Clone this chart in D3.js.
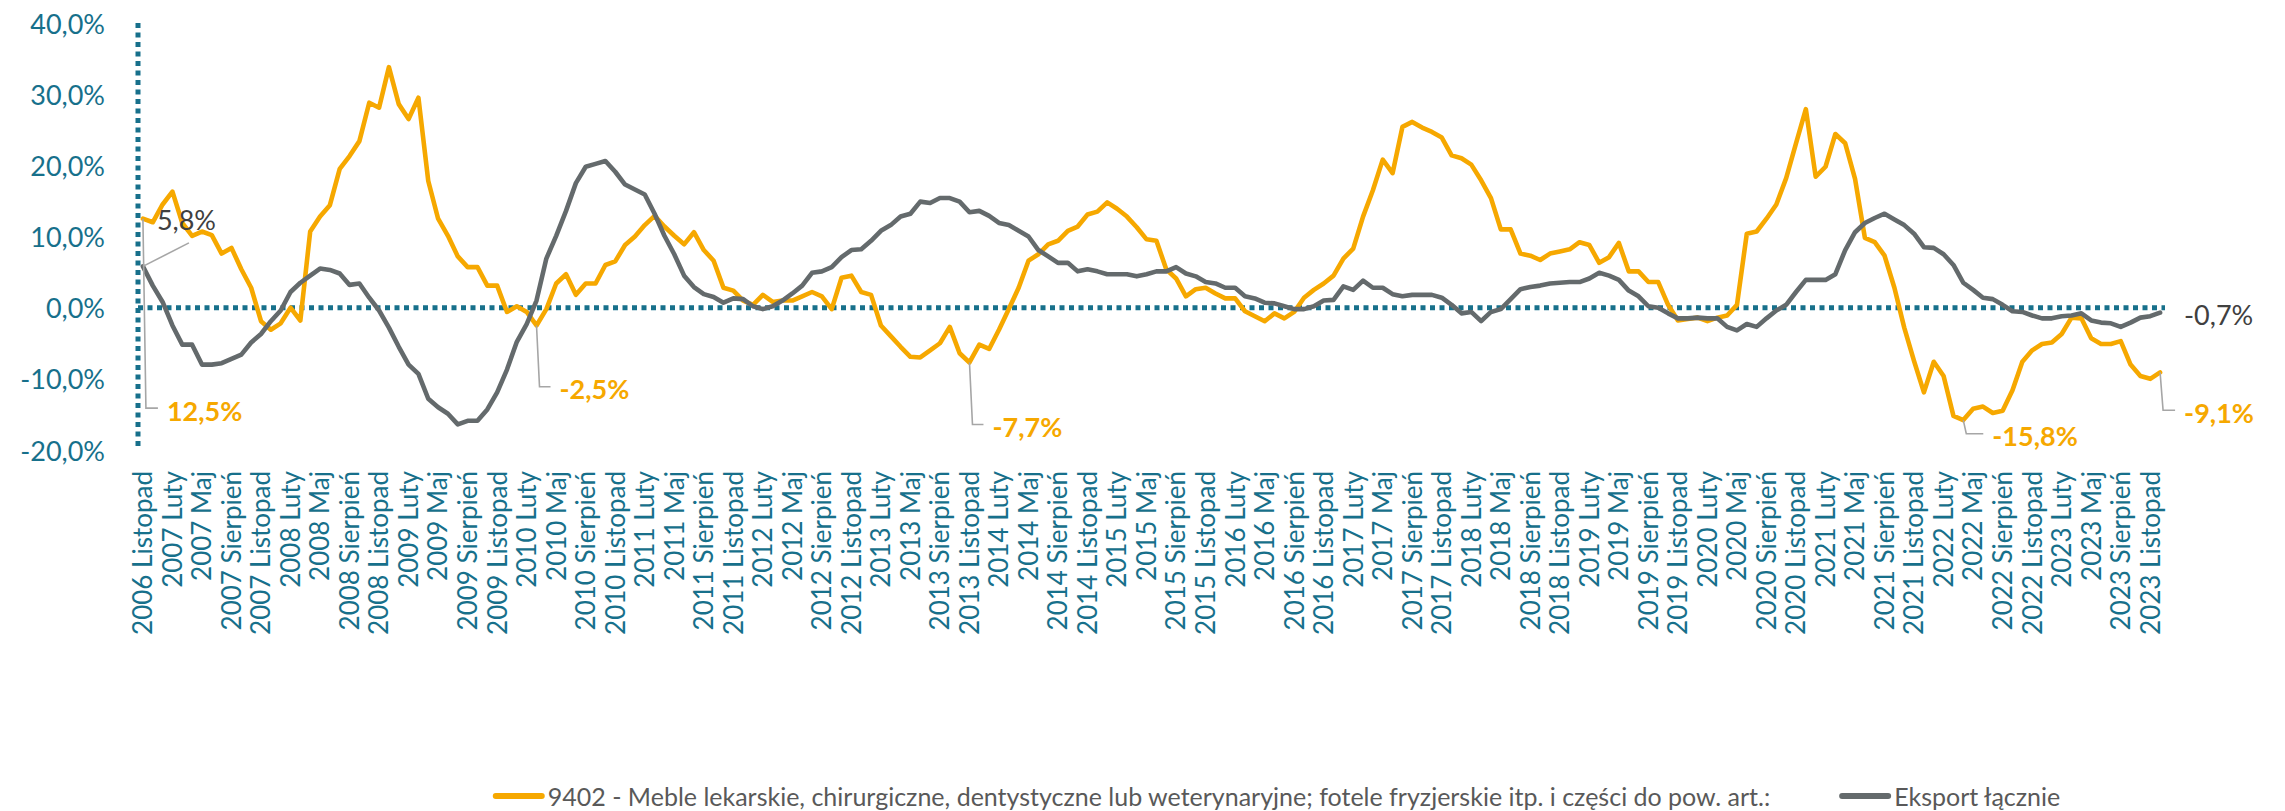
<!DOCTYPE html>
<html>
<head>
<meta charset="utf-8">
<script src="https://cdn.jsdelivr.net/npm/d3@7"></script>
<style>
  html, body { margin: 0; padding: 0; background: #fff; }
  svg { display: block; }
</style>
</head>
<body>
<div id="chart"></div>
<script>
// ---- dane ----
const START_YEAR = 2006, START_MONTH = 10;   // 2006 Listopad
const monthNames = ["Styczeń", "Luty", "Marzec", "Kwiecień", "Maj", "Czerwiec",
                    "Lipiec", "Sierpień", "Wrzesień", "Październik", "Listopad", "Grudzień"];

const seriesNames = [
  "9402 - Meble lekarskie, chirurgiczne, dentystyczne lub weterynaryjne; fotele fryzjerskie itp. i części do pow. art.:",
  "Eksport łącznie"
];

// dynamika r/r, %
const meble = [
  12.5, 12.0, 14.5, 16.3, 11.9, 10.1, 10.7, 10.2, 7.6, 8.4, 5.4, 2.8,
  -1.9, -3.1, -2.2, 0.0, -1.8, 10.7, 12.8, 14.4, 19.5, 21.3, 23.4, 28.8,
  28.1, 33.8, 28.6, 26.5, 29.5, 17.8, 12.5, 10.1, 7.2, 5.7, 5.7, 3.1,
  3.1, -0.6, 0.2, -0.6, -2.5, -0.2, 3.4, 4.7, 1.8, 3.4, 3.4, 6.0,
  6.5, 8.8, 10.0, 11.6, 12.9, 11.4, 10.1, 8.9, 10.6, 8.1, 6.6, 2.8,
  2.4, 1.0, 0.4, 1.8, 0.8, 1.0, 1.0, 1.6, 2.2, 1.6, -0.2, 4.2,
  4.5, 2.2, 1.8, -2.5, -4.0, -5.5, -6.9, -7.0, -6.0, -5.0, -2.7, -6.4,
  -7.7, -5.2, -5.8, -3.1, -0.2, 2.8, 6.6, 7.5, 8.9, 9.4, 10.8, 11.4,
  13.1, 13.5, 14.8, 13.9, 12.8, 11.3, 9.6, 9.4, 5.4, 4.1, 1.6, 2.6,
  2.8, 2.0, 1.3, 1.3, -0.5, -1.2, -1.9, -0.8, -1.5, -0.6, 1.4, 2.5,
  3.4, 4.5, 6.9, 8.3, 12.8, 16.5, 20.8, 18.9, 25.4, 26.1, 25.3, 24.7,
  23.9, 21.4, 21.0, 20.1, 17.9, 15.4, 11.0, 11.0, 7.6, 7.3, 6.7, 7.6,
  7.9, 8.2, 9.2, 8.8, 6.3, 7.1, 9.1, 5.1, 5.1, 3.6, 3.6, 0.4,
  -1.8, -1.6, -1.4, -1.9, -1.4, -1.1, 0.4, 10.4, 10.7, 12.5, 14.5, 18.2,
  23.1, 27.9, 18.4, 19.8, 24.4, 23.1, 18.1, 9.8, 9.2, 7.3, 2.8, -2.8,
  -7.5, -11.9, -7.6, -9.6, -15.2, -15.8, -14.2, -13.9, -14.8, -14.5, -11.6, -7.6,
  -6.0, -5.1, -4.9, -3.7, -1.4, -1.5, -4.3, -5.1, -5.1, -4.7, -8.0, -9.6,
  -10.0, -9.1
];

const eksport = [
  5.8, 3.1, 0.8, -2.5, -5.2, -5.2, -8.0, -8.0, -7.8, -7.2, -6.6, -4.9,
  -3.7, -1.9, -0.4, 2.2, 3.5, 4.5, 5.5, 5.3, 4.8, 3.2, 3.4, 1.4,
  -0.4, -2.8, -5.5, -8.0, -9.3, -12.8, -14.0, -14.9, -16.4, -15.9, -15.9, -14.3,
  -11.9, -8.7, -4.8, -2.3, 1.0, 6.9, 10.1, 13.6, 17.5, 19.8, 20.2, 20.6,
  19.1, 17.3, 16.6, 15.9, 13.2, 10.1, 7.5, 4.5, 2.9, 1.9, 1.5, 0.7,
  1.3, 1.2, 0.2, -0.2, 0.2, 1.0, 2.0, 3.1, 4.9, 5.1, 5.7, 7.1,
  8.1, 8.2, 9.4, 10.8, 11.6, 12.8, 13.2, 14.9, 14.7, 15.4, 15.4, 14.9,
  13.4, 13.6, 12.9, 11.9, 11.6, 10.8, 10.0, 8.1, 7.2, 6.3, 6.3, 5.1,
  5.4, 5.1, 4.7, 4.7, 4.7, 4.4, 4.7, 5.1, 5.1, 5.7, 4.8, 4.4,
  3.6, 3.4, 2.8, 2.8, 1.6, 1.3, 0.7, 0.6, 0.2, -0.2, -0.2, 0.2,
  1.0, 1.1, 3.0, 2.5, 3.8, 2.8, 2.8, 1.9, 1.6, 1.8, 1.8, 1.8,
  1.4, 0.4, -0.8, -0.6, -1.9, -0.6, -0.2, 1.2, 2.6, 2.9, 3.1, 3.4,
  3.5, 3.6, 3.6, 4.1, 4.9, 4.5, 3.9, 2.4, 1.6, 0.2, 0.0, -0.8,
  -1.5, -1.5, -1.4, -1.5, -1.5, -2.7, -3.2, -2.3, -2.7, -1.5, -0.4, 0.4,
  2.2, 3.9, 3.9, 3.9, 4.7, 8.1, 10.6, 11.9, 12.6, 13.2, 12.4, 11.6,
  10.4, 8.5, 8.4, 7.5, 6.0, 3.5, 2.5, 1.4, 1.2, 0.4, -0.5, -0.6,
  -1.1, -1.5, -1.5, -1.2, -1.1, -0.8, -1.8, -2.1, -2.2, -2.7, -2.1, -1.4,
  -1.2, -0.7
];

const yTicks = [-20, -10, 0, 10, 20, 30, 40];
const TICK_EVERY = 3;

// etykiety danych: seria, indeks, poziom etykiety (w %), przesunięcie x
const dataLabels = [
  { s: 0, i: 0,   ly: -14.4, dx: 24,  bold: true },
  { s: 0, i: 40,  ly: -11.4, dx: 23,  bold: true },
  { s: 0, i: 84,  ly: -16.7, dx: 23,  bold: true },
  { s: 0, i: 185, ly: -18.0, dx: 29,  bold: true },
  { s: 0, i: 205, ly: -14.7, dx: 24,  bold: true },
  { s: 1, i: 0,   ly: 12.4,  dx: 14,  bold: false, diag: true },
  { s: 1, i: 205, ly: -1.0,  dx: 24,  bold: false, noLeader: true }
];

// ---- wygląd ----
const W = 2285, H = 811;
const TEAL = "#17708b";
const ORANGE = "#f6a800";
const GREY = "#646a6c";
const FONT = "Lato, 'Open Sans', sans-serif";

const categories = d3.range(meble.length).map(i => {
  const k = START_MONTH + i;
  return (START_YEAR + Math.floor(k / 12)) + " " + monthNames[k % 12];
});
const series = [meble, eksport];
const colors = [ORANGE, GREY];

const plPL = d3.formatLocale({ decimal: ",", thousands: " ", grouping: [3], currency: ["", " zł"], minus: "-" });
const pct = v => plPL.format(".1%")(v / 100);

const svg = d3.select("#chart").append("svg").attr("width", W).attr("height", H)
  .style("font-family", FONT);

const x = d3.scaleBand().domain(d3.range(categories.length)).range([138, 2165]);
const y = d3.scaleLinear().domain([-20, 40]).range([450, 23]);
const cx = i => x(i) + x.bandwidth() / 2;

// oś Y - etykiety
svg.append("g").selectAll("text").data(yTicks).join("text")
  .attr("x", 105).attr("y", d => y(d))
  .attr("text-anchor", "end").attr("dominant-baseline", "central")
  .attr("fill", TEAL).style("font-size", "27px")
  .text(d => pct(d));

// linie osi (kropkowane)
const dotted = sel => sel.attr("stroke", TEAL).attr("stroke-width", 5).attr("stroke-dasharray", "5,4.5");
svg.append("line").attr("x1", x.range()[0]).attr("x2", x.range()[0])
  .attr("y1", y(40)).attr("y2", y(-20)).call(dotted);
svg.append("line").attr("x1", x.range()[0]).attr("x2", x.range()[1])
  .attr("y1", y(0)).attr("y2", y(0)).call(dotted);

// oś X - etykiety co 3 miesiące
svg.append("g").selectAll("text")
  .data(categories.map((c, i) => ({ c, i })).filter(d => d.i % TICK_EVERY === 0))
  .join("text")
  .attr("transform", d => `translate(${cx(d.i)},471) rotate(-90)`)
  .attr("text-anchor", "end").attr("dy", "0.36em")
  .attr("fill", TEAL).style("font-size", "26px")
  .text(d => d.c);

// serie
const line = d3.line().x((d, i) => cx(i)).y(d => y(d));
series.forEach((s, k) => {
  svg.append("path").datum(s)
    .attr("d", line)
    .attr("fill", "none")
    .attr("stroke", colors[k])
    .attr("stroke-width", 4.6)
    .attr("stroke-linejoin", "round")
    .attr("stroke-linecap", "round");
});

// etykiety danych + linie odniesienia
const lab = svg.append("g");
dataLabels.forEach(d => {
  const v = series[d.s][d.i];
  const px = cx(d.i), py = y(v), ly = y(d.ly);
  if (!d.noLeader) {
    let pts;
    if (d.diag) pts = [[px, py], [px + 46, y(9.1)]];
    else pts = [[px, py], [px + 3, ly - 2], [px + d.dx - 9, ly - 2]];
    lab.append("path").attr("d", d3.line()(pts))
      .attr("fill", "none").attr("stroke", "#a6a6a6").attr("stroke-width", 1.6);
  }
  lab.append("text")
    .attr("x", px + d.dx).attr("y", ly)
    .attr("dominant-baseline", "central")
    .attr("fill", d.s === 0 ? ORANGE : "#404040")
    .style("font-size", "27px")
    .style("font-weight", d.bold ? 700 : 400)
    .text(pct(v));
});

// legenda
const leg = svg.append("g");
const LEG_Y = 796, KEY = 46, GAP = 6, ITEM_GAP = 72;
const items = seriesNames.map((name, k) => {
  const g = leg.append("g");
  g.append("line").attr("x1", 0).attr("x2", KEY).attr("y1", 0).attr("y2", 0)
    .attr("stroke", colors[k]).attr("stroke-width", 6).attr("stroke-linecap", "round");
  const t = g.append("text").attr("x", KEY + GAP).attr("y", 0)
    .attr("dominant-baseline", "central").attr("fill", "#595959")
    .style("font-size", "25px").text(name);
  return { g, w: KEY + GAP + t.node().getComputedTextLength() };
});
const total = d3.sum(items, d => d.w) + ITEM_GAP;
let lx = 1278 - total / 2;
items.forEach(it => {
  it.g.attr("transform", `translate(${lx},${LEG_Y})`);
  lx += it.w + ITEM_GAP;
});
</script>
</body>
</html>
